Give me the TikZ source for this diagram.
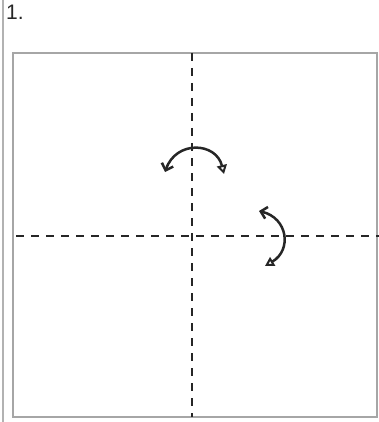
\documentclass[tikz,border=0pt]{standalone}
\usepackage{fontspec}
\setmainfont{Liberation Sans}
\usetikzlibrary{arrows.meta}

\begin{document}
\begin{tikzpicture}[
  x=1pt, y=-1pt,
  sheet/.style={draw=gray!70, line width=1.5pt},
  fold/.style={draw=black!85, line width=2.5pt, dash pattern=on 8pt off 7pt},
  turn/.style={draw=black!85, line width=2.5pt, {Triangle[open, length=9pt, width=10pt, line width=2pt]}-{Straight Barb[length=6pt, width=12pt, line width=2.5pt]}}
]
\useasboundingbox (0,0) rectangle (379,422);
\draw[gray!60, line width=1.5pt] (3,0) -- (3,422);
\node[font=\fontsize{21pt}{25}\selectfont, text=black!85, anchor=north west, inner sep=0pt] (num) at (6,5) {1.};
% square sheet
\draw[sheet] (13,53) rectangle (377,417);
\coordinate (top) at (192,53);
\coordinate (bot) at (192,417);
\coordinate (lft) at (16,236);
\coordinate (rgt) at (379,236);
\draw[fold] (top) -- (bot);
\draw[fold] (lft) -- (rgt);
% turn arrows
\coordinate (a1) at (224,174);
\coordinate (b1) at (165,172);
\draw[turn] (a1) .. controls (216,142) and (176,140) .. (b1);
\coordinate (a2) at (265,266);
\coordinate (b2) at (259,211);
\draw[turn] (a2) .. controls (292,250) and (288,218) .. (b2);
\end{tikzpicture}
\end{document}
